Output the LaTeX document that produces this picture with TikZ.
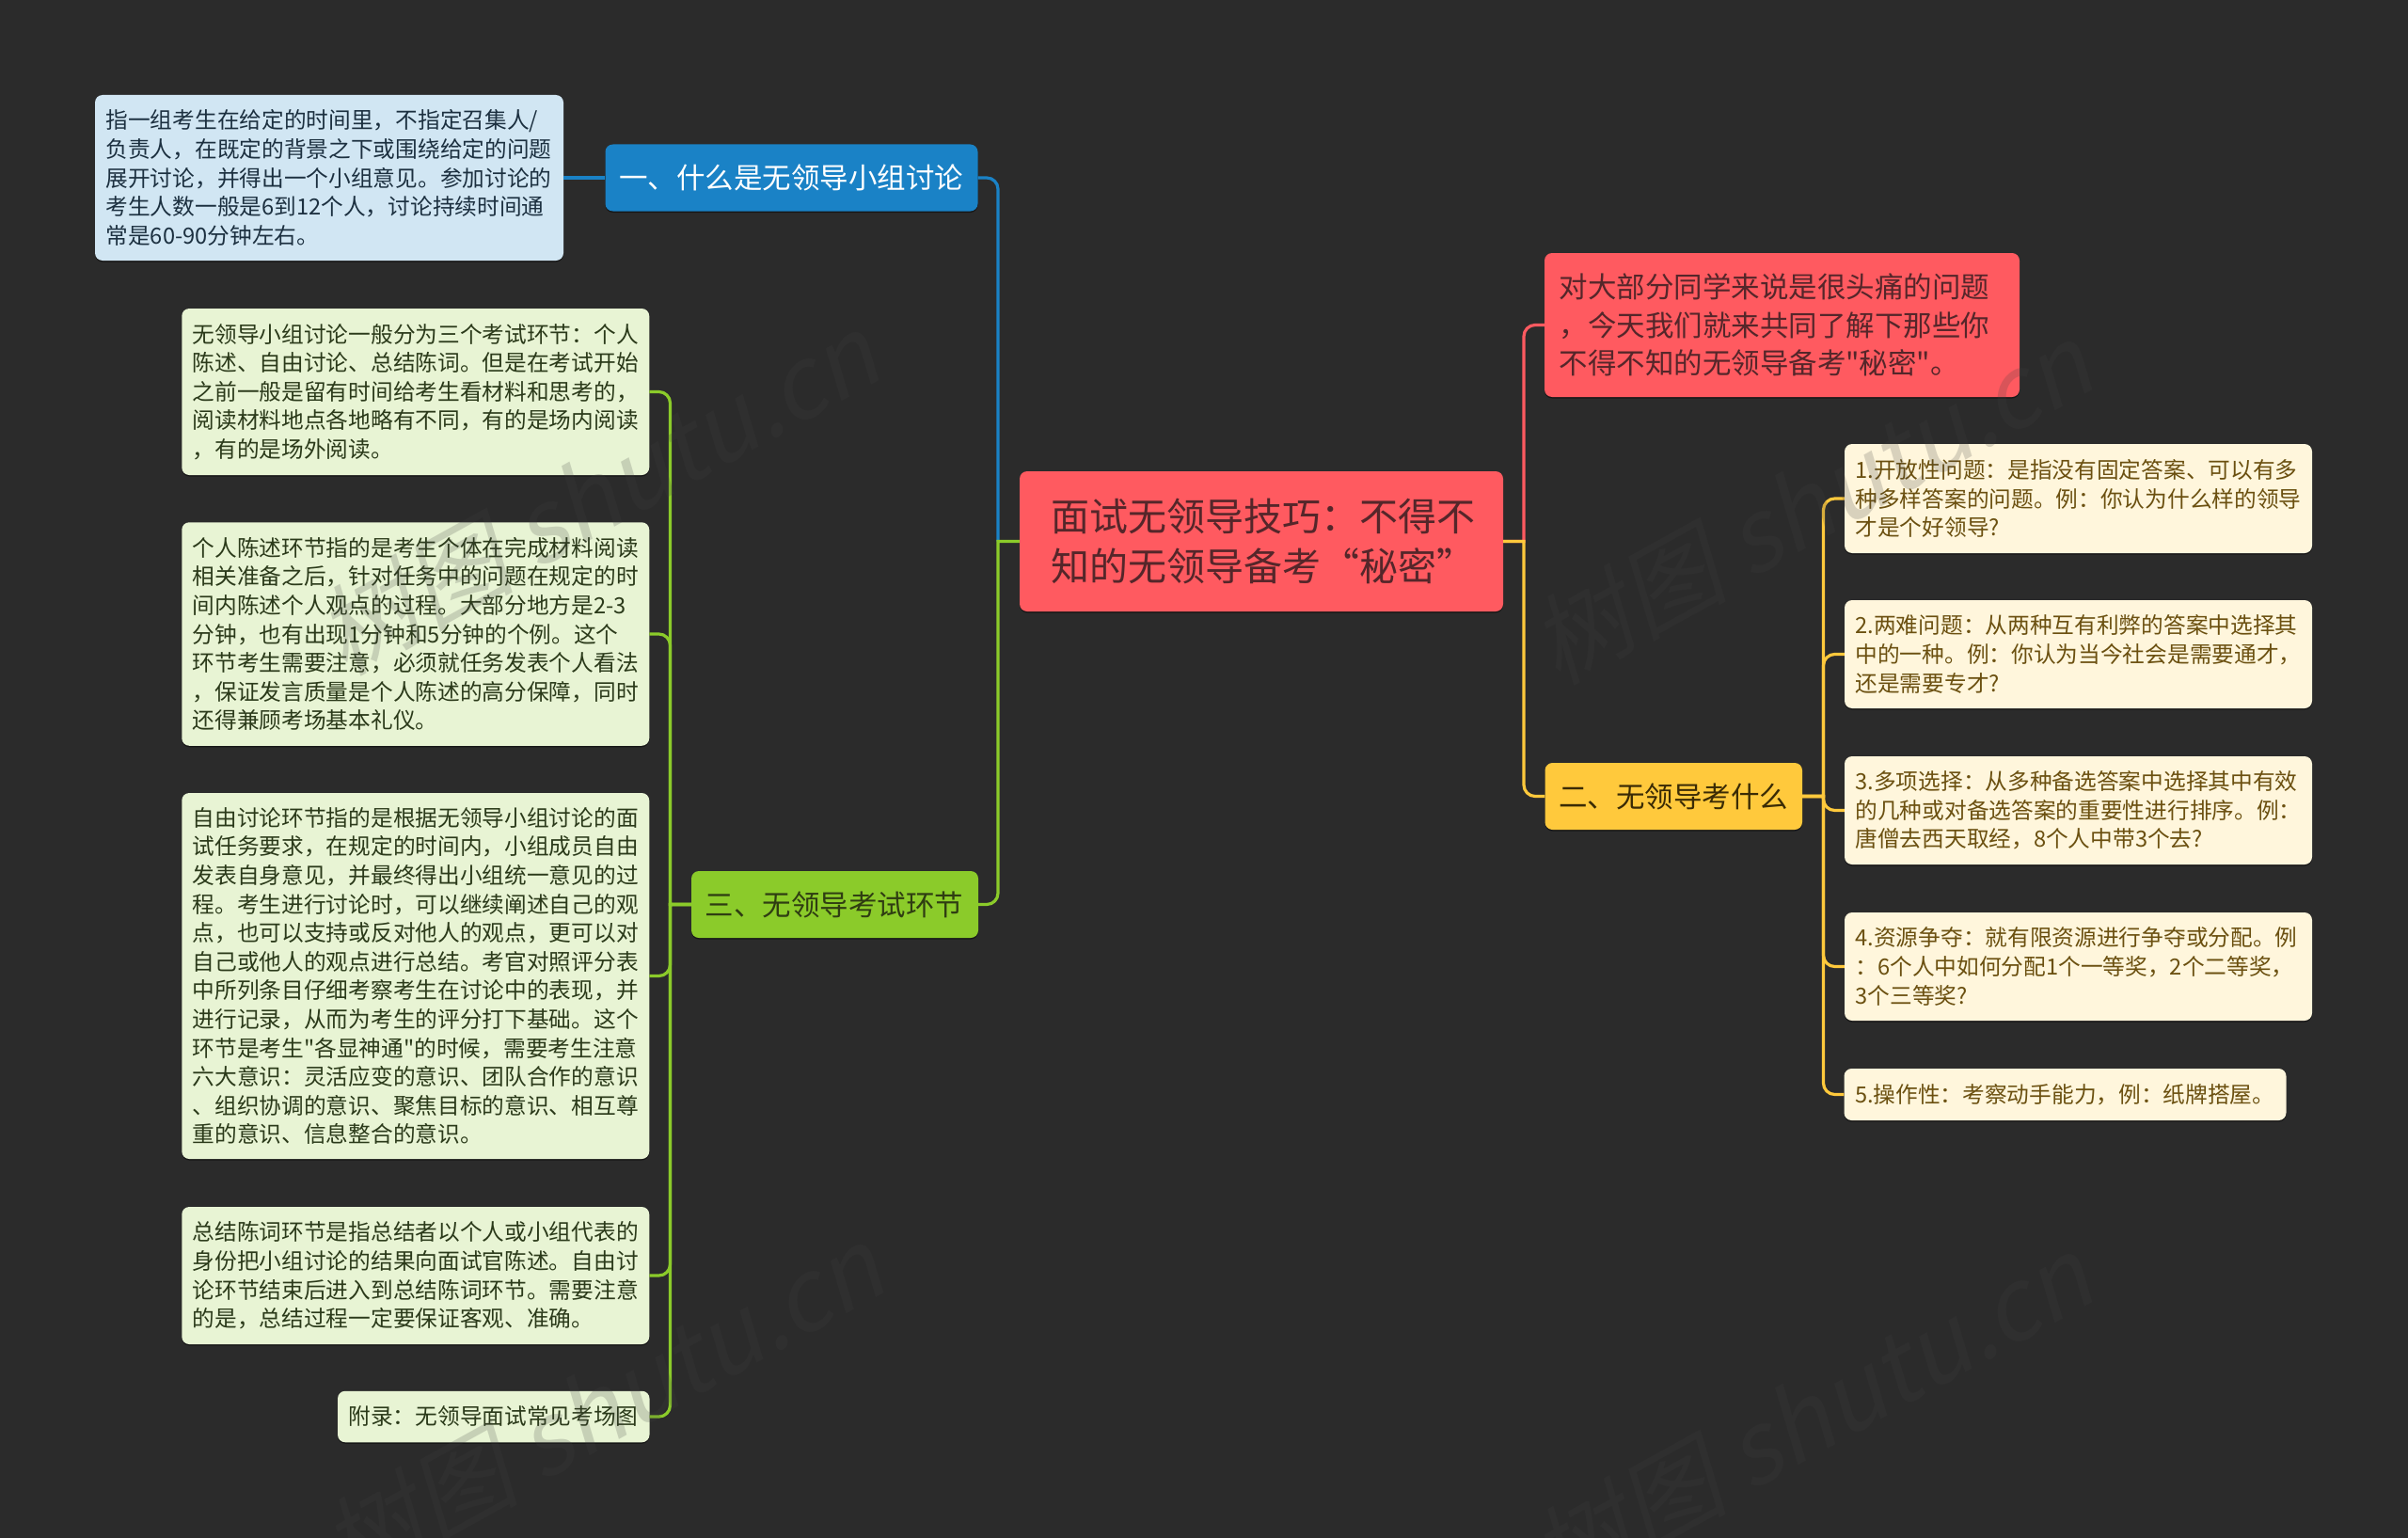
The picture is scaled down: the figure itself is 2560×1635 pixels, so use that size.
\documentclass[tikz,border=0pt]{standalone}
\usepackage{fontspec}
\newfontfamily\cjkf{Noto Sans CJK SC}
\newfontfamily\wmcjk[FakeSlant=0.22]{Noto Sans CJK SC}
\usetikzlibrary{shadows}
\definecolor{bgc}{HTML}{2B2B2B}
\definecolor{cblue}{HTML}{1A82C6}
\definecolor{cgreen}{HTML}{8BCB2A}
\definecolor{cred}{HTML}{FF5A60}
\definecolor{cyellow}{HTML}{FFC93C}
\definecolor{lblue}{HTML}{D1E6F3}
\definecolor{lgreen}{HTML}{E8F4D4}
\definecolor{lyellow}{HTML}{FFF6DC}
\definecolor{tblue}{HTML}{1C3040}
\definecolor{tgreen}{HTML}{2B3A1A}
\definecolor{tyellow}{HTML}{6B5010}
\definecolor{tred}{HTML}{55262A}
\definecolor{thg}{HTML}{2F3D12}
\definecolor{thy}{HTML}{3A2B05}
\definecolor{wmgray}{HTML}{404040}
\tikzset{
  x=1pt,y=-1pt,
  boxbase/.style={rectangle,rounded corners=8pt,inner ysep=0pt,align=left,anchor=center,
    drop shadow={shadow xshift=0pt,shadow yshift=-1.5pt,fill=black,opacity=0.45}},
  leafbox/.style={boxbase,inner xsep=11.5pt,font=\fontsize{23.7pt}{30.6pt}\cjkf},
  headbox/.style={boxbase,inner xsep=14.5pt,font=\fontsize{30.5pt}{40.5pt}\cjkf},
  leafblue/.style={leafbox,fill=lblue,text=tblue},
  leafgreen/.style={leafbox,fill=lgreen,text=tgreen},
  leafyellow/.style={leafbox,fill=lyellow,text=tyellow},
  headblue/.style={headbox,fill=cblue,text=white},
  headgreen/.style={headbox,fill=cgreen,text=thg},
  headyellow/.style={headbox,fill=cyellow,text=thy},
  headred/.style={headbox,inner xsep=15.5pt,fill=cred,text=tred},
  rootbox/.style={boxbase,inner xsep=33pt,fill=cred,text=tred,font=\fontsize{41pt}{53pt}\cjkf},
  conn/.style={line width=3.2pt,rounded corners=12pt},
  wmark/.style={rotate=29,text=wmgray,text opacity=0.2,inner sep=0pt,
    font=\fontsize{105pt}{105pt}\wmcjk},
}
\begin{document}
\begin{tikzpicture}
\useasboundingbox (0,0) rectangle (2560,1635);
\fill[bgc] (0,0) rectangle (2560,1635);

\coordinate (ls) at (1061,575.5);
\coordinate (rs) at (1620,575.5);
\coordinate (gs) at (712.5,961.5);
\coordinate (ys) at (1938.5,846.5);

\node[leafblue,text width=475pt,minimum height=176pt] (bd) at (350,189) {指一组考生在给定的时间里，不指定召集人/\\负责人，在既定的背景之下或围绕给定的问题\\展开讨论，并得出一个小组意见。参加讨论的\\考生人数一般是6到12个人，讨论持续时间通\\常是60-90分钟左右。};
\node[headblue,text width=367pt,minimum height=71pt] (bh) at (841.5,189) {一、什么是无领导小组讨论};

\node[leafgreen,text width=474pt,minimum height=177pt] (g1) at (441.75,416.5) {无领导小组讨论一般分为三个考试环节：个人\\陈述、自由讨论、总结陈词。但是在考试开始\\之前一般是留有时间给考生看材料和思考的，\\阅读材料地点各地略有不同，有的是场内阅读\\，有的是场外阅读。};
\node[leafgreen,text width=474pt,minimum height=237.5pt] (g2) at (441.75,674) {个人陈述环节指的是考生个体在完成材料阅读\\相关准备之后，针对任务中的问题在规定的时\\间内陈述个人观点的过程。大部分地方是2-3\\分钟，也有出现1分钟和5分钟的个例。这个\\环节考生需要注意，必须就任务发表个人看法\\，保证发言质量是个人陈述的高分保障，同时\\还得兼顾考场基本礼仪。};
\node[leafgreen,text width=474pt,minimum height=389pt] (g3) at (441.75,1037.5) {自由讨论环节指的是根据无领导小组讨论的面\\试任务要求，在规定的时间内，小组成员自由\\发表自身意见，并最终得出小组统一意见的过\\程。考生进行讨论时，可以继续阐述自己的观\\点，也可以支持或反对他人的观点，更可以对\\自己或他人的观点进行总结。考官对照评分表\\中所列条目仔细考察考生在讨论中的表现，并\\进行记录，从而为考生的评分打下基础。这个\\环节是考生"各显神通"的时候，需要考生注意\\六大意识：灵活应变的意识、团队合作的意识\\、组织协调的意识、聚焦目标的意识、相互尊\\重的意识、信息整合的意识。};
\node[leafgreen,text width=474pt,minimum height=146pt] (g4) at (441.75,1356) {总结陈词环节是指总结者以个人或小组代表的\\身份把小组讨论的结果向面试官陈述。自由讨\\论环节结束后进入到总结陈词环节。需要注意\\的是，总结过程一定要保证客观、准确。};
\node[leafgreen,text width=308.5pt,minimum height=54.5pt] (g5) at (524.75,1506) {附录：无领导面试常见考场图};
\node[headgreen,text width=276pt,minimum height=71pt] (gh) at (887.5,961.5) {三、无领导考试环节};

\node[rootbox,text width=448pt,minimum height=149pt] (root) at (1341,575.5) {面试无领导技巧：不得不\\知的无领导备考“秘密”};

\node[headred,text width=474pt,minimum height=153pt] (rd) at (1894.5,345.5) {对大部分同学来说是很头痛的问题\\，今天我们就来共同了解下那些你\\不得不知的无领导备考"秘密"。};
\node[headyellow,text width=244.5pt,minimum height=71pt] (yh) at (1779.25,846.5) {二、无领导考什么};

\node[leafyellow,text width=474pt,minimum height=116pt] (y1) at (2209.5,530) {1.开放性问题：是指没有固定答案、可以有多\\种多样答案的问题。例：你认为什么样的领导\\才是个好领导?};
\node[leafyellow,text width=474pt,minimum height=115pt] (y2) at (2209.5,695.5) {2.两难问题：从两种互有利弊的答案中选择其\\中的一种。例：你认为当今社会是需要通才，\\还是需要专才?};
\node[leafyellow,text width=474pt,minimum height=115pt] (y3) at (2209.5,861.5) {3.多项选择：从多种备选答案中选择其中有效\\的几种或对备选答案的重要性进行排序。例：\\唐僧去西天取经，8个人中带3个去?};
\node[leafyellow,text width=474pt,minimum height=115pt] (y4) at (2209.5,1027.5) {4.资源争夺：就有限资源进行争夺或分配。例\\：6个人中如何分配1个一等奖，2个二等奖，\\3个三等奖?};
\node[leafyellow,text width=447pt,minimum height=55pt] (y5) at (2195.5,1163.5) {5.操作性：考察动手能力，例：纸牌搭屋。};

% connectors: the stub into each spine meets it squarely, the branches round off at the boxes
\draw[conn,cblue] (bd.east) -- (bh.west);
\draw[conn,cblue] (bh.east) -| (ls);
\draw[conn,cgreen,sharp corners] (root.west) -- (ls) [rounded corners=12pt] |- (gh.east);
\draw[conn,cred,sharp corners] (root.east) -- (rs) [rounded corners=12pt] |- (rd.west);
\draw[conn,cyellow,sharp corners] (root.east) -- (rs) [rounded corners=12pt] |- (yh.west);
\foreach \n in {g1,g2,g3,g4,g5}{\draw[conn,cgreen,sharp corners] (gh.west) -- (gs) [rounded corners=12pt] |- (\n.east);}
\foreach \n in {y1,y2,y3,y4,y5}{\draw[conn,cyellow,sharp corners] (yh.east) -- (ys) [rounded corners=12pt] |- (\n.west);}

% watermarks
\node[wmark] (wa) at (635,525) {树图 shutu.cn};
\node[wmark] (wb) at (1925,535) {树图 shutu.cn};
\node[wmark] (wc) at (640,1495) {树图 shutu.cn};
\node[wmark] (wd) at (1925,1505) {树图 shutu.cn};
\end{tikzpicture}
\end{document}
